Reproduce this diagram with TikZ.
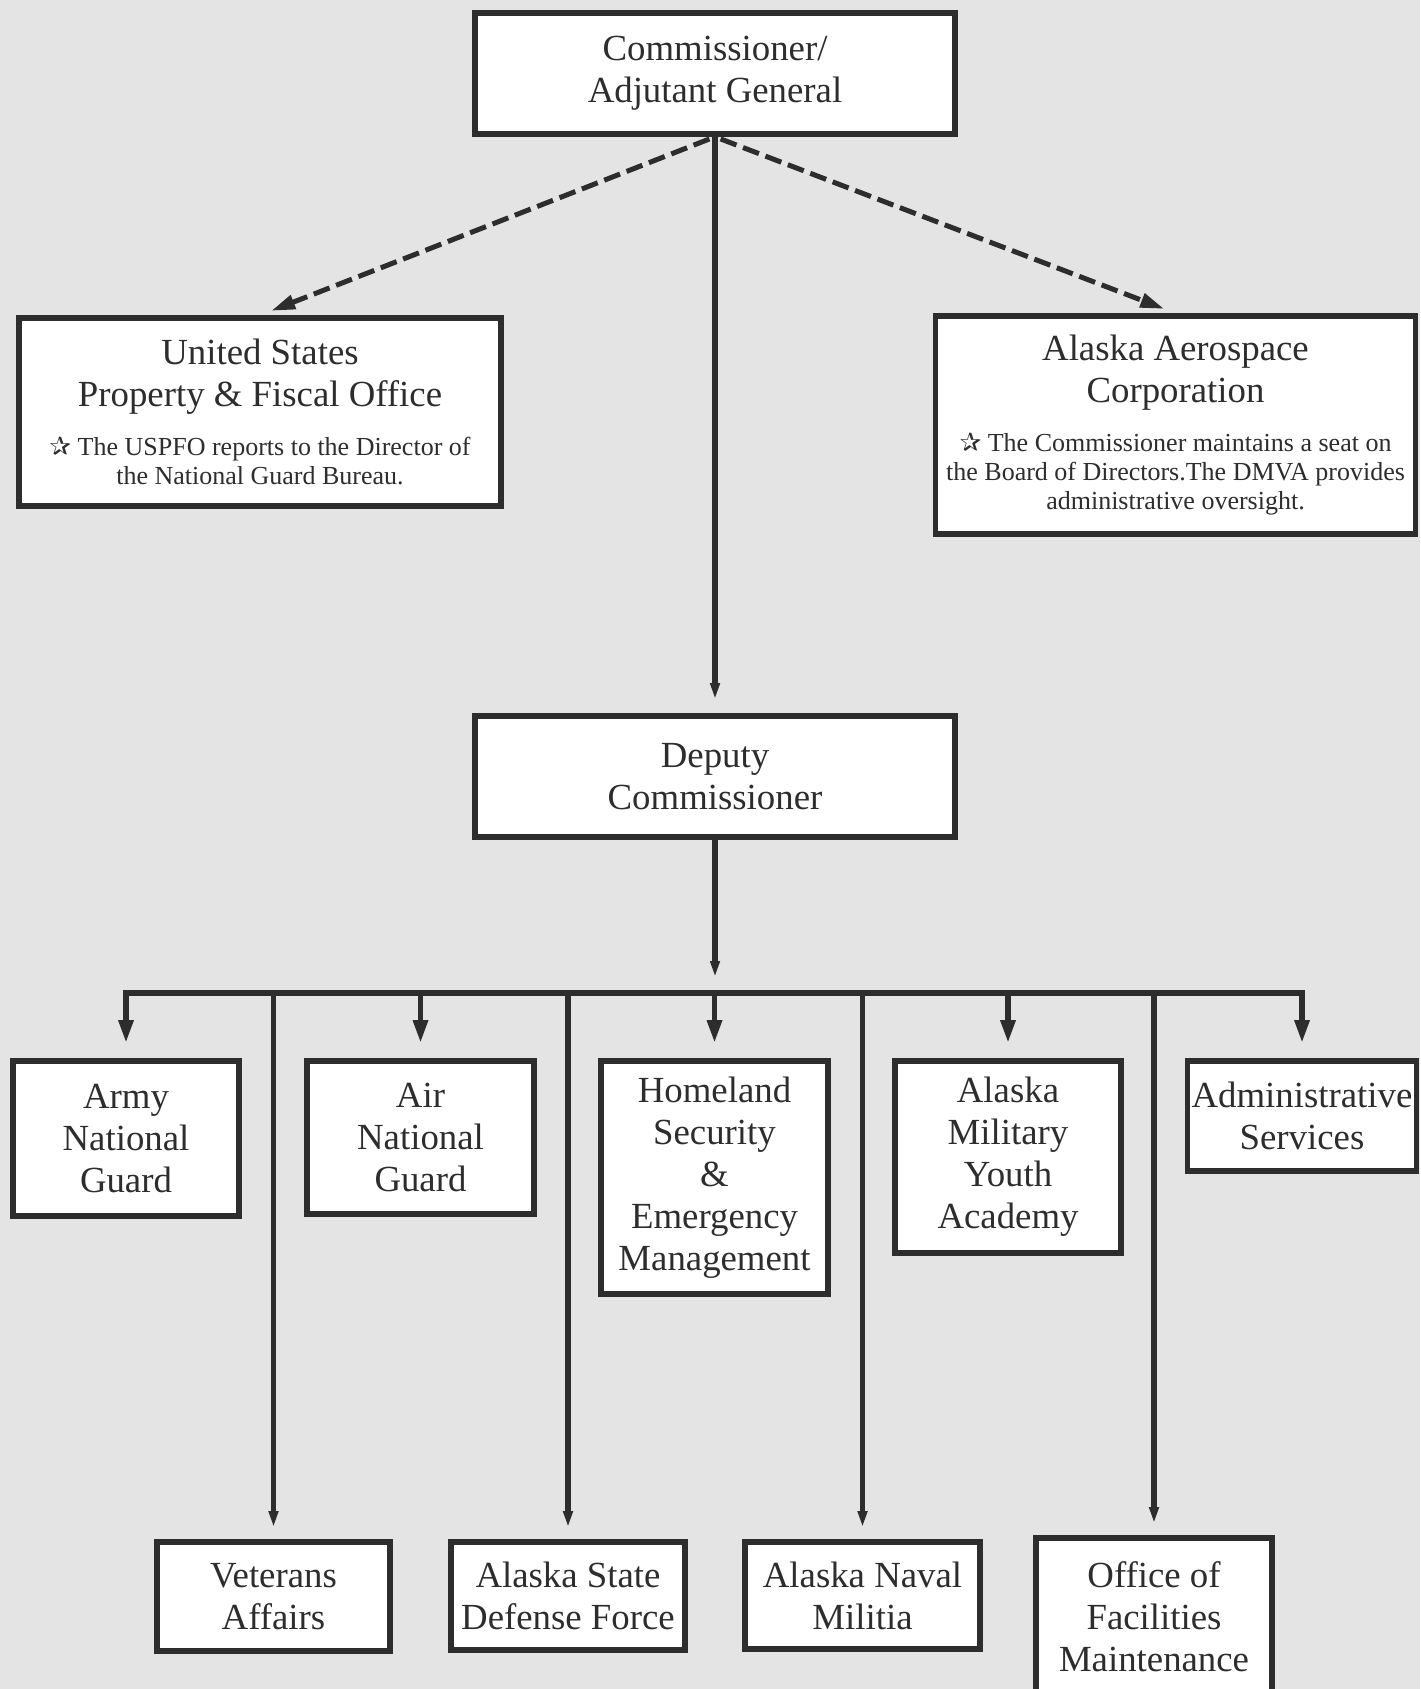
\documentclass[tikz,border=0pt]{standalone}
\usepackage{fontspec}
\setmainfont{Liberation Serif}
\newfontfamily\starfont{DejaVu Sans}
\usetikzlibrary{arrows.meta}
\definecolor{inkgray}{RGB}{45,45,45}
\definecolor{paper}{RGB}{228,228,228}
\newcommand{\notestar}{{\starfont\fontsize{13}{14.5}\selectfont ✰}}
\newcommand{\notesize}{\fontsize{13}{14.5}\selectfont}

\begin{document}
\begin{tikzpicture}[x=0.5pt,y=-0.5pt,
  box/.style={draw=inkgray, line width=2.8pt, fill=white, inner sep=2pt, align=center,
    text=inkgray, font=\fontsize{18.4}{21}\selectfont},
  line/.style={draw=inkgray, line width=2.8pt},
  bigtip/.style={line, -{Triangle[length=11.5pt,width=7pt]}},
  slimtip/.style={line, -{Triangle[length=8pt,width=4.5pt]}},
  dasharrow/.style={line, line width=2.5pt, dash pattern=on 8.5pt off 3.5pt,
    -{Triangle[length=12pt,width=7pt]}}]
    \fill[paper] (0,0) rectangle (1420,1689);
    \useasboundingbox (0,0) rectangle (1420,1689);

    \node[box, minimum width=240pt, minimum height=60.5pt] (comm) at (715,73.5) {Commissioner/\\Adjutant General};
    \node[box, minimum width=241pt, minimum height=94pt, text width=236pt] (usp) at (260,412)
      {\centering\spaceskip=0pt\xspaceskip=0pt United States\\Property \& Fiscal Office\par\vspace{10pt}\notesize\centering\notestar{} The USPFO reports to the Director of\\the National Guard Bureau.\par};
    \node[box, minimum width=239.5pt, minimum height=109pt, text width=236pt] (aero) at (1175.5,425)
      {\centering\spaceskip=0pt\xspaceskip=0pt Alaska Aerospace\\Corporation\par\vspace{10pt}\notesize\centering\notestar{} The Commissioner maintains a seat on\\the Board of Directors.The DMVA provides\\administrative oversight.\par};
    \node[box, minimum width=240pt, minimum height=60.5pt] (dep) at (715,776.5) {Deputy\\Commissioner};

    \node[box, minimum width=113pt, minimum height=77.5pt] (army) at (126,1138.5) {Army\\National\\Guard};
    \node[box, minimum width=113.5pt, minimum height=76.5pt] (air) at (420.5,1137.5) {Air\\National\\Guard};
    \node[box, minimum width=113.5pt, minimum height=116.5pt] (home) at (714.5,1177.5) {Homeland\\Security\\\&\\Emergency\\Management};
    \node[box, minimum width=113pt, minimum height=96pt] (youth) at (1008,1157) {Alaska\\Military\\Youth\\Academy};
    \node[box, minimum width=113pt, minimum height=55pt] (admin) at (1302,1116) {Administrative\\Services};

    \node[box, minimum width=116.5pt, minimum height=54.5pt] (vet) at (273.5,1596.5) {Veterans\\Affairs};
    \node[box, minimum width=117pt, minimum height=54pt] (def) at (568,1596) {Alaska State\\Defense Force};
    \node[box, minimum width=117.5pt, minimum height=53.5pt] (nav) at (862.5,1595.5) {Alaska Naval\\Militia};
    \node[box, minimum width=118pt, minimum height=79pt] (fac) at (1154,1617) {Office of\\Facilities\\Maintenance};

    \draw[dasharrow, shorten <=3pt, shorten >=6pt] (comm.south) -- (usp.north);
    \draw[dasharrow, shorten <=3pt, shorten >=6pt] (comm.south) -- (aero.north);
    \draw[slimtip, shorten >=7pt] (comm.south) -- (dep.north);

    \coordinate (bus) at (715,993);
    \draw[slimtip, shorten >=8pt] (dep.south) -- (bus);
    \draw[line, line cap=rect] (army.north |- bus) -- (admin.north |- bus);
    \foreach \unit in {army,air,home,youth,admin}
      \draw[bigtip, shorten >=7.5pt] (\unit.north |- bus) -- (\unit.north);
    \foreach \unit in {vet,def,nav,fac}
      \draw[slimtip, shorten >=6pt] (\unit.north |- bus) -- (\unit.north);
\end{tikzpicture}
\end{document}
